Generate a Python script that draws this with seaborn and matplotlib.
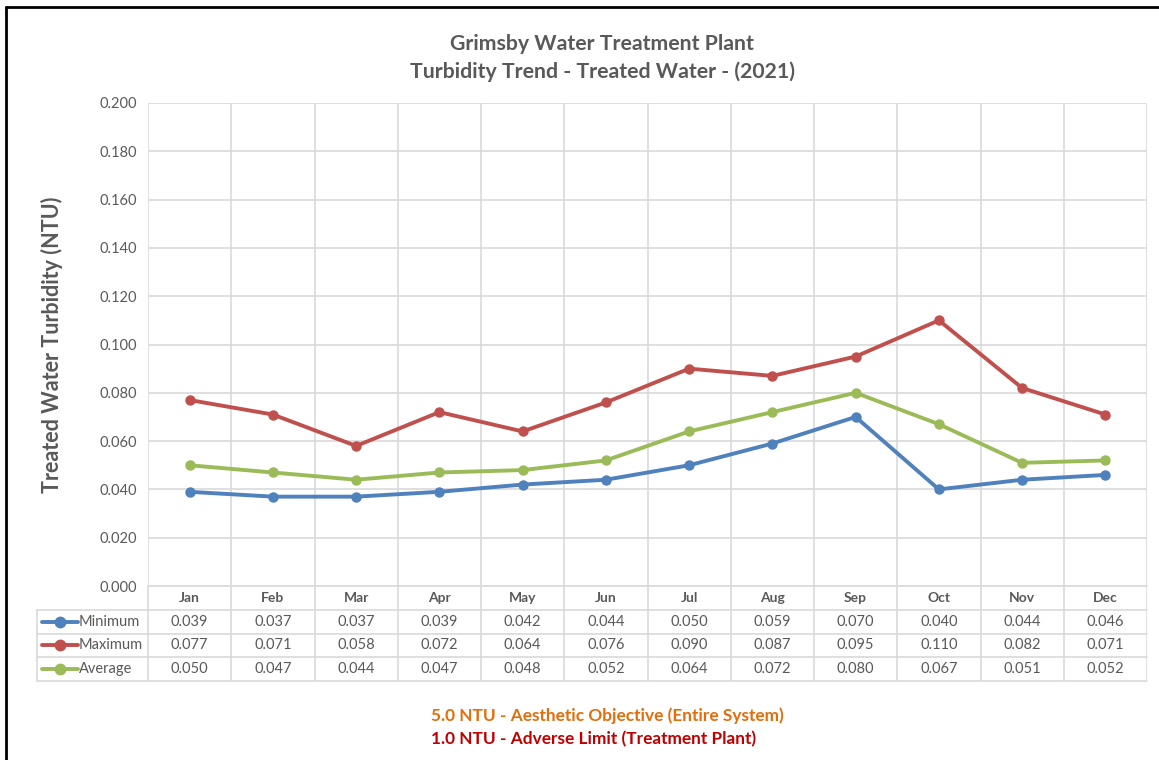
import numpy as np
import pandas as pd
import seaborn as sns
import matplotlib.pyplot as plt
from matplotlib.lines import Line2D

months = ['Jan', 'Feb', 'Mar', 'Apr', 'May', 'Jun', 'Jul', 'Aug', 'Sep', 'Oct', 'Nov', 'Dec']
minimum = [0.039, 0.037, 0.037, 0.039, 0.042, 0.044, 0.050, 0.059, 0.070, 0.040, 0.044, 0.046]
maximum = [0.077, 0.071, 0.058, 0.072, 0.064, 0.076, 0.090, 0.087, 0.095, 0.110, 0.082, 0.071]
average = [0.050, 0.047, 0.044, 0.047, 0.048, 0.052, 0.064, 0.072, 0.080, 0.067, 0.051, 0.052]
series_names = ['Minimum', 'Maximum', 'Average']
yticks = np.arange(0, 0.2001, 0.02)

colors = {'Minimum': '#4F81BD', 'Maximum': '#C0504D', 'Average': '#9BBB59'}
txt = '#595959'
gridc = '#D9D9D9'

sns.set_style('white')
plt.rcParams['font.family'] = ['Lato', 'DejaVu Sans']

rows = []
for name, vals in zip(series_names, [minimum, maximum, average]):
    for i, v in enumerate(vals):
        rows.append({'pos': i, 'month': months[i], 'series': name, 'value': v})
df = pd.DataFrame(rows)

W, H = 1159, 760
fig = plt.figure(figsize=(W / 100, H / 100), dpi=100)

def fx(px):
    return px / W

def fy(py):
    return 1 - py / H

# main plot area
x0, x1, ytop, ybot = 148, 1147, 103, 586
ax = fig.add_axes([fx(x0), fy(ybot), fx(x1) - fx(x0), fy(ytop) - fy(ybot)])
sns.lineplot(data=df, x='pos', y='value', hue='series', hue_order=series_names,
             palette=colors, marker='o', markersize=7.5, markeredgewidth=0,
             linewidth=2.8, legend=False, ax=ax, zorder=3)
ax.set_xlim(-0.5, 11.5)
ax.set_ylim(0, 0.2)
ax.set_yticks(yticks)
ax.set_yticklabels([f'{t:.3f}' for t in yticks], color=txt, fontsize=10.5)
ax.set_xticks([])
for t in yticks:
    ax.axhline(t, color=gridc, lw=1.2, zorder=1)
for b in np.arange(-0.5, 12, 1):
    ax.axvline(b, color=gridc, lw=1.2, zorder=1)
for s in ax.spines.values():
    s.set_visible(False)
ax.tick_params(axis='y', length=0, pad=8)
ax.set_xlabel('')
ax.set_ylabel('Treated Water Turbidity (NTU)', fontsize=15.5, fontweight='bold',
              color=txt, labelpad=26)

# data table below the plot
label_left = 37
unit = (x1 - x0) / 12
tab_top, tab_bot = 586, 681
tax = fig.add_axes([fx(label_left), fy(tab_bot), fx(x1) - fx(label_left), fy(tab_top) - fy(tab_bot)])
left_units = -0.5 - (x0 - label_left) / unit
tax.set_xlim(left_units, 11.5)
tax.set_ylim(4, 0)
tax.axis('off')
for b in np.arange(-0.5, 12, 1):
    tax.plot([b, b], [0, 4], color=gridc, lw=1.2)
tax.plot([left_units, left_units], [1, 4], color=gridc, lw=1.2, clip_on=False)
tax.plot([-0.5, 11.5], [0, 0], color=gridc, lw=1.2, clip_on=False)
for r in [1, 2, 3, 4]:
    tax.plot([left_units, 11.5], [r, r], color=gridc, lw=1.2, clip_on=False)
for i, m in enumerate(months):
    tax.text(i, 0.5, m, ha='center', va='center', fontsize=10, color=txt, fontweight='bold')
for r, (name, vals) in enumerate(zip(series_names, [minimum, maximum, average]), start=1):
    for i, v in enumerate(vals):
        tax.text(i, r + 0.5, f'{v:.3f}', ha='center', va='center', fontsize=10.5, color=txt)
    lx0 = left_units + 5 / unit
    lx1 = left_units + 41 / unit
    tax.plot([lx0, lx1], [r + 0.5, r + 0.5], color=colors[name], lw=2.8, clip_on=False)
    tax.plot([(lx0 + lx1) / 2], [r + 0.5], 'o', color=colors[name], ms=7.5, clip_on=False)
    tax.text(lx1 + 1 / unit, r + 0.5, name, ha='left', va='center', fontsize=10.5, color=txt)

# titles
fig.text(fx(602), fy(44), 'Grimsby Water Treatment Plant', ha='center', va='center',
         fontsize=15.3, fontweight='bold', color=txt)
fig.text(fx(602), fy(72), 'Turbidity Trend - Treated Water - (2021)', ha='center', va='center',
         fontsize=15.3, fontweight='bold', color=txt)

# notes
fig.text(fx(607), fy(716), '5.0 NTU - Aesthetic Objective (Entire System)', ha='center',
         va='center', fontsize=12.4, fontweight='bold', color='#E46C0A')
fig.text(fx(594), fy(739), '1.0 NTU - Adverse Limit (Treatment Plant)', ha='center',
         va='center', fontsize=12.4, fontweight='bold', color='#C00000')

# outer frame
fig.add_artist(Line2D([fx(6), 1], [fy(7), fy(7)], color='black', lw=2))
fig.add_artist(Line2D([fx(6), fx(6)], [fy(7), 0], color='black', lw=2))

fig.savefig('out.png', dpi=100, facecolor='white')
